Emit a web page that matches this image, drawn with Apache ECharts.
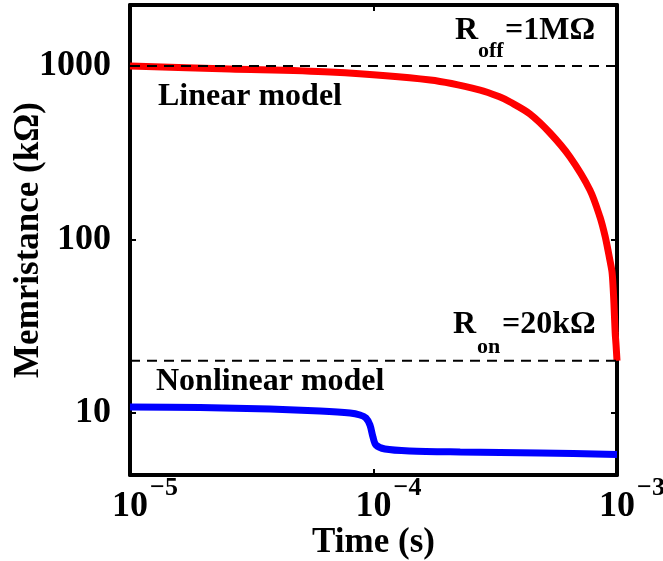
<!DOCTYPE html>
<html><head><meta charset="utf-8">
<script src="https://cdn.jsdelivr.net/npm/echarts@6/dist/echarts.min.js"></script>
<style>html,body{margin:0;padding:0;background:#fff}#c{width:663px;height:561px}</style>
</head><body><div id="c"></div>
<script>
// Linear model (red)
const timeLinear = [1e-5, 2.57e-5, 6.63e-5, 1.71e-4, 2.74e-4, 3.31e-4, 3.64e-4, 4.39e-4, 5.31e-4, 6.41e-4, 7.74e-4, 8.51e-4, 8.93e-4, 9.18e-4, 9.35e-4, 9.54e-4, 9.64e-4, 9.72e-4, 9.83e-4, 9.91e-4, 1e-3];
const memLinear  = [1000, 961, 923, 830, 727, 662, 620, 529, 411, 299, 193, 135, 105, 87, 76, 65, 53, 42, 29, 24.7, 20];
// Nonlinear model (blue)
const timeNonlinear = [1e-5, 1.94e-5, 3.76e-5, 6.03e-5, 8.01e-5, 8.80e-5, 9.31e-5, 9.67e-5, 9.95e-5, 1.023e-4, 1.114e-4, 1.41e-4, 2.27e-4, 4.83e-4, 1e-3];
const memNonlinear  = [10.83, 10.76, 10.54, 10.27, 10.0, 9.74, 9.36, 8.53, 7.27, 6.54, 6.20, 6.04, 5.96, 5.88, 5.77];
// Reference levels
const refTime = [1e-5, 1e-3];
const roffLevel = [1000, 1000];
const ronLevel = [20, 20];
// Tick labels
const xTickValues = [1e-5, 1e-4, 1e-3];
const xTickExponents = ['\u22125', '\u22124', '\u22123'];
const yTickValues = [10, 100, 1000];
const yTickLabels = ['10', '100', '1000'];

const FONT = '"Liberation Serif", "Times New Roman", serif';
const chart = echarts.init(document.getElementById('c'), null, {renderer: 'canvas'});
function pairs(xs, ys) { return xs.map((x, i) => [x, ys[i]]); }
function near(v, list) { return list.findIndex(t => Math.abs(Math.log10(v) - Math.log10(t)) < 1e-6); }
const frame = {show: true, onZero: false, lineStyle: {color: '#000', width: 4}};
const tick = {show: true, inside: true, length: 6, lineStyle: {color: '#000', width: 2}};
const txt = {fontWeight: 'bold', fontFamily: FONT, color: '#000'};
function label(text, x, y, size) {
  return {type: 'text', x: x, y: y, z: 10, style: {text: text, font: 'bold ' + size + 'px ' + FONT, fill: '#000',
    align: 'left', verticalAlign: 'middle', textAlign: 'left', textVerticalAlign: 'middle'}};
}

const option = {
  animation: false,
  backgroundColor: '#fff',
  grid: {left: 130, right: 46, top: 5, bottom: 86, containLabel: false, outerBoundsMode: 'none'},
  xAxis: [
    {type: 'log', logBase: 10, min: 1e-5, max: 1e-3, position: 'bottom',
     axisLine: frame, axisTick: tick, splitLine: {show: false},
     axisLabel: {margin: 0, showMinLabel: true, showMaxLabel: true,
       formatter: v => { const i = near(v, xTickValues); return i < 0 ? '' : '{pad|}{b|10}{s|' + xTickExponents[i] + '}'; },
       rich: {pad: {width: 30},
              b: Object.assign({fontSize: 36, lineHeight: 50, verticalAlign: 'bottom'}, txt),
              s: Object.assign({fontSize: 26, lineHeight: 20, verticalAlign: 'top', padding: [0, 0, 0, 2]}, txt)}},
     name: 'Time (s)', nameLocation: 'middle', nameGap: 50, nameMoveOverlap: false,
     nameTextStyle: Object.assign({fontSize: 35}, txt)},
    {type: 'log', logBase: 10, min: 1e-5, max: 1e-3, position: 'top',
     axisLine: frame, axisTick: tick, splitLine: {show: false}, axisLabel: {show: false}}
  ],
  yAxis: [
    {type: 'log', logBase: 10, min: 4.393, max: 2247, position: 'left',
     axisLine: frame, axisTick: tick, splitLine: {show: false},
     axisLabel: Object.assign({fontSize: 36, margin: 19,
       formatter: v => { const i = near(v, yTickValues); return i < 0 ? '' : yTickLabels[i]; }}, txt),
     name: 'Memristance (k\u03A9)', nameLocation: 'middle', nameGap: 84, nameMoveOverlap: false,
     nameTextStyle: Object.assign({fontSize: 35}, txt)},
    {type: 'log', logBase: 10, min: 4.393, max: 2247, position: 'right',
     axisLine: frame, axisTick: tick, splitLine: {show: false}, axisLabel: {show: false}}
  ],
  series: [
    {type: 'line', name: 'Linear model', data: pairs(timeLinear, memLinear), showSymbol: false,
     smooth: 0.3, lineStyle: {color: '#ff0000', width: 7}, z: 2},
    {type: 'line', name: 'Nonlinear model', data: pairs(timeNonlinear, memNonlinear), showSymbol: false,
     smooth: 0.3, lineStyle: {color: '#0000ff', width: 7}, z: 2},
    {type: 'line', name: 'Roff', data: pairs(refTime, roffLevel), showSymbol: false,
     lineStyle: {color: '#000', width: 2, type: [10, 7]}, z: 3},
    {type: 'line', name: 'Ron', data: pairs(refTime, ronLevel), showSymbol: false,
     lineStyle: {color: '#000', width: 2, type: [10, 7]}, z: 3}
  ],
  graphic: [
    label('R', 455, 31, 32),
    label('off', 478, 51, 22),
    label('=1M\u03A9', 505, 31, 32),
    label('Linear model', 158, 97, 32),
    label('R', 453, 325, 32),
    label('on', 477, 347, 22),
    label('=20k\u03A9', 502, 325, 32),
    label('Nonlinear model', 156, 382, 32)
  ]
};
chart.setOption(option);
</script>
</body></html>
